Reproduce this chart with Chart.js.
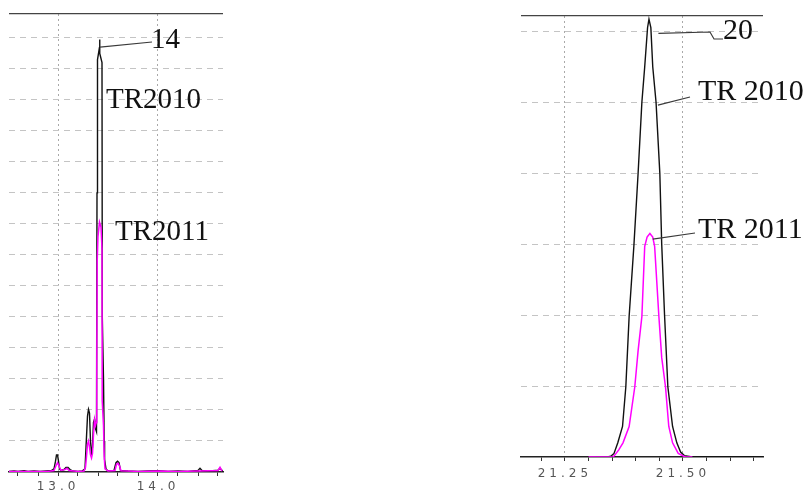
<!DOCTYPE html>
<html>
<head>
<meta charset="utf-8">
<script src="https://cdn.jsdelivr.net/npm/chart.js@4"></script>
<style>
  html, body { margin: 0; padding: 0; background: #fff; width: 808px; height: 493px; overflow: hidden; }
  canvas { position: absolute; top: 0; }
  #peak14 { left: 0; }
  #peak20 { left: 500px; }
</style>
</head>
<body>
<canvas id="peak14" width="260" height="493"></canvas>
<canvas id="peak20" width="308" height="493"></canvas>
<script>
// ---- Peak 14 window (retention time, min / response) ----
const leftTime2010 = [12.51, 12.56, 12.60, 12.66, 12.70, 12.76, 12.82, 12.88, 12.93, 12.96, 12.975, 12.985, 12.995, 13.005, 13.015, 13.03, 13.06, 13.08, 13.10, 13.12, 13.15, 13.20, 13.24, 13.27, 13.28, 13.295, 13.305, 13.315, 13.325, 13.335, 13.345, 13.355, 13.365, 13.375, 13.385, 13.39, 13.395, 13.41, 13.415, 13.42, 13.44, 13.443, 13.455, 13.462, 13.466, 13.48, 13.50, 13.56, 13.58, 13.595, 13.61, 13.625, 13.70, 13.80, 13.90, 14.00, 14.10, 14.20, 14.30, 14.40, 14.42, 14.44, 14.52, 14.60, 14.62, 14.64, 14.65];
const leftSignal2010 = [0.02, 0.03, 0.02, 0.04, 0.02, 0.03, 0.02, 0.03, 0.04, 0.1, 0.35, 0.55, 0.55, 0.35, 0.1, 0.05, 0.08, 0.15, 0.15, 0.08, 0.03, 0.02, 0.03, 0.1, 0.8, 1.8, 2.02, 1.9, 1.0, 0.6, 0.8, 1.6, 1.7, 1.4, 1.3, 9.0, 13.3, 13.6, 13.95, 13.5, 13.2, 5.0, 3.0, 1.0, 0.4, 0.1, 0.03, 0.05, 0.3, 0.35, 0.3, 0.05, 0.03, 0.02, 0.03, 0.04, 0.02, 0.03, 0.02, 0.05, 0.12, 0.05, 0.03, 0.06, 0.12, 0.05, 0.03];
const leftTime2011 = [12.51, 12.70, 12.90, 12.96, 12.98, 12.995, 13.01, 13.03, 13.07, 13.09, 13.11, 13.20, 13.26, 13.275, 13.285, 13.295, 13.305, 13.315, 13.325, 13.335, 13.345, 13.355, 13.365, 13.375, 13.383, 13.388, 13.392, 13.40, 13.415, 13.43, 13.44, 13.442, 13.455, 13.462, 13.47, 13.50, 13.57, 13.585, 13.60, 13.615, 13.63, 13.80, 14.00, 14.20, 14.40, 14.60, 14.62, 14.64];
const leftSignal2011 = [0.02, 0.02, 0.02, 0.05, 0.2, 0.3, 0.2, 0.05, 0.08, 0.12, 0.05, 0.02, 0.03, 0.15, 0.5, 0.9, 1.0, 0.8, 0.55, 0.45, 0.6, 1.2, 1.68, 1.5, 1.6, 3.5, 6.8, 7.6, 8.06, 7.9, 7.2, 2.3, 1.5, 0.5, 0.1, 0.03, 0.05, 0.25, 0.28, 0.2, 0.04, 0.02, 0.03, 0.02, 0.03, 0.05, 0.15, 0.03];
const leftTickValues = [12.6, 12.8, 13.0, 13.2, 13.4, 13.6, 13.8, 14.0, 14.2, 14.4, 14.6];
const leftLabelValues = [13.0, 14.0];
const leftLabelTexts = ['13.0', '14.0'];
const leftGridLevels = [1, 2, 3, 4, 5, 6, 7, 8, 9, 10, 11, 12, 13, 14];

// ---- Peak 20 window ----
const rightTime2010 = [21.315, 21.34, 21.347, 21.354, 21.362, 21.372, 21.379, 21.386, 21.396, 21.405, 21.413, 21.419, 21.425, 21.428, 21.432, 21.436, 21.443, 21.451, 21.455, 21.461, 21.468, 21.478, 21.487, 21.495, 21.503, 21.52, 21.67];
const rightSignal2010 = [0.0, 0.0, 0.01, 0.05, 0.2, 0.43, 0.99, 1.98, 2.97, 4.0, 5.0, 5.5, 6.05, 6.17, 6.05, 5.5, 5.0, 4.0, 3.0, 2.0, 0.99, 0.43, 0.2, 0.07, 0.02, 0.0, 0.0];
const rightTime2011 = [21.30, 21.352, 21.356, 21.364, 21.373, 21.386, 21.398, 21.405, 21.413, 21.419, 21.424, 21.430, 21.436, 21.440, 21.449, 21.455, 21.463, 21.470, 21.478, 21.490, 21.505, 21.52];
const rightSignal2011 = [0.0, 0.0, 0.03, 0.1, 0.2, 0.43, 0.99, 1.5, 1.98, 2.97, 3.1, 3.15, 3.1, 2.97, 1.98, 1.4, 0.99, 0.43, 0.2, 0.05, 0.0, 0.0];
const rightTickValues = [21.20, 21.25, 21.30, 21.35, 21.40, 21.45, 21.50, 21.55, 21.60, 21.65];
const rightLabelValues = [21.25, 21.50];
const rightLabelTexts = ['21.25', '21.50'];
const rightGridLevels = [1, 2, 3, 4, 5, 6];

const pts = (xs, ys) => xs.map((x, i) => ({ x: x, y: ys[i] }));
const near = (a, b) => Math.abs(a - b) < 1e-6;

// Wide-tracked axis numbers: spacing applies while scales are painted, reset before the traces.
const trackedTicks = {
  id: 'trackedTicks',
  beforeDraw(chart) { chart.ctx.letterSpacing = '4px'; },
  beforeDatasetsDraw(chart) { chart.ctx.letterSpacing = '0px'; }
};

// Peak callouts: leader lines start on the trace (data space), text sits beside it.
const callouts = {
  id: 'callouts',
  afterDraw(chart, args, opts) {
    const ctx = chart.ctx;
    const xs = chart.scales.x, ys = chart.scales.y;
    ctx.save();
    ctx.letterSpacing = '0px';
    ctx.strokeStyle = '#3a3a3a';
    ctx.lineWidth = 1.2;
    (opts.leaders || []).forEach(l => {
      ctx.beginPath();
      ctx.moveTo(xs.getPixelForValue(l.at[0]), ys.getPixelForValue(l.at[1]));
      l.path.forEach(p => ctx.lineTo(p[0], p[1]));
      ctx.stroke();
    });
    ctx.fillStyle = '#111';
    ctx.textBaseline = 'alphabetic';
    ctx.textAlign = 'left';
    (opts.notes || []).forEach(n => {
      ctx.font = n.size + 'px "Liberation Serif", "Times New Roman", serif';
      ctx.fillText(n.text, n.x, n.y);
    });
    ctx.restore();
  }
};

function buildChart(id, s) {
  const yMax = s.yMax;
  return new Chart(document.getElementById(id), {
    type: 'line',
    data: {
      datasets: [
        { label: 'TR2010', data: pts(s.t2010, s.v2010), borderColor: '#111', borderWidth: 1.4, order: 1 },
        { label: 'TR2011', data: pts(s.t2011, s.v2011), borderColor: '#ff00ff', borderWidth: 1.5, order: 0 }
      ]
    },
    plugins: [trackedTicks, callouts],
    options: {
      responsive: false,
      animation: false,
      devicePixelRatio: 1,
      layout: { padding: { left: s.pad[0], right: s.pad[1], top: s.pad[2], bottom: 0 } },
      elements: { point: { radius: 0 }, line: { tension: 0, fill: false } },
      plugins: {
        legend: { display: false },
        tooltip: { enabled: false },
        callouts: { leaders: s.leaders, notes: s.notes }
      },
      scales: {
        x: {
          type: 'linear',
          bounds: 'data',
          min: s.xMin,
          max: s.xMax,
          afterFit: sc => { sc.height = s.axisH; },
          afterBuildTicks: sc => { sc.ticks = s.ticks.map(v => ({ value: v })); },
          ticks: {
            autoSkip: false,
            maxRotation: 0,
            padding: s.labelPad,
            color: '#555',
            font: { family: 'DejaVu Sans', size: 12 },
            callback: v => {
              const k = s.labelValues.findIndex(t => near(t, v));
              return k >= 0 ? s.labelTexts[k] : '';
            }
          },
          grid: {
            color: c => (c.tick && s.labelValues.some(t => near(t, c.tick.value))) ? '#a9a9a9' : 'rgba(0,0,0,0)',
            lineWidth: 1,
            tickColor: '#333',
            tickLength: 4,
            tickWidth: 1
          },
          border: { display: true, color: '#222', width: 1.5, dash: [2, 3] }
        },
        y: {
          type: 'linear',
          bounds: 'data',
          min: 0,
          max: yMax,
          afterFit: sc => { sc.width = 0; },
          afterBuildTicks: sc => { sc.ticks = s.levels.concat([yMax]).map(v => ({ value: v })); },
          ticks: { display: false },
          grid: {
            drawTicks: false,
            color: c => (c.tick && near(c.tick.value, yMax)) ? '#444' : '#c4c4c4',
            lineWidth: c => (c.tick && near(c.tick.value, yMax)) ? 1.3 : 1
          },
          border: { display: false, dash: c => (c.tick && near(c.tick.value, yMax)) ? [] : [6, 5] }
        }
      }
    }
  });
}

buildChart('peak14', {
  t2010: leftTime2010, v2010: leftSignal2010, t2011: leftTime2011, v2011: leftSignal2011,
  xMin: 12.51, xMax: 14.65, yMax: 14.77,
  ticks: leftTickValues, labelValues: leftLabelValues, labelTexts: leftLabelTexts, levels: leftGridLevels,
  pad: [9, 37, 14], axisH: 21, labelPad: 4,
  leaders: [ { at: [13.42, 13.7], path: [[152, 42]] } ],
  notes: [
    { text: '14', x: 151, y: 48, size: 29 },
    { text: 'TR2010', x: 106, y: 108, size: 29 },
    { text: 'TR2011', x: 115, y: 240, size: 29 }
  ]
});

buildChart('peak20', {
  t2010: rightTime2010, v2010: rightSignal2010, t2011: rightTime2011, v2011: rightSignal2011,
  xMin: 21.157, xMax: 21.6695, yMax: 6.215,
  ticks: rightTickValues, labelValues: rightLabelValues, labelTexts: rightLabelTexts, levels: rightGridLevels,
  pad: [21, 45, 16], axisH: 36, labelPad: 6,
  leaders: [
    { at: [21.448, 5.97], path: [[210, 32], [214, 39], [223, 39]] },
    { at: [21.447, 4.96], path: [[190, 97]] },
    { at: [21.436, 3.07], path: [[195, 233]] }
  ],
  notes: [
    { text: '20', x: 223, y: 39, size: 30 },
    { text: 'TR 2010', x: 198, y: 100, size: 30 },
    { text: 'TR 2011', x: 198, y: 238, size: 30 }
  ]
});
</script>
</body>
</html>
